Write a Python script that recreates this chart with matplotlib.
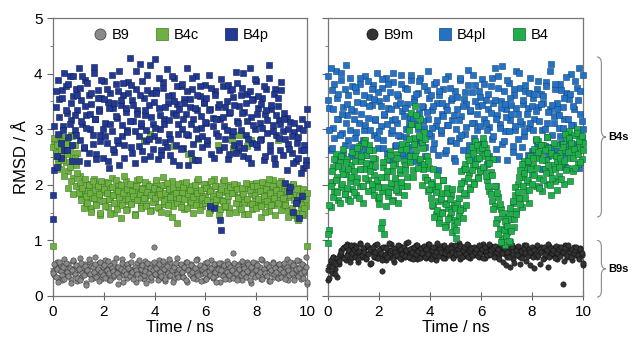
import numpy as np
import matplotlib.pyplot as plt
from matplotlib.lines import Line2D
from matplotlib.path import Path
from matplotlib.patches import PathPatch
import matplotlib.transforms as mtransforms

plt.rcParams['font.family'] = ['Liberation Sans', 'DejaVu Sans']

# RMSD values (hundredths of an angstrom); each list is spread evenly over 0-10 ns,
# the "_b" lists are a second set of frames
b9 = [
    45, 38, 52, 61, 33, 47, 55, 29, 42, 66, 50, 37, 58, 44, 31, 49, 63, 40, 53, 27,
    46, 68, 35, 51, 42, 57, 24, 48, 39, 62, 54, 33, 45, 71, 41, 36, 59, 47, 30, 52,
    43, 65, 38, 50, 28, 56, 46, 34, 61, 44, 53, 22, 49, 40, 67, 37, 55, 45, 32, 58,
    48, 41, 74, 35, 51, 26, 60, 43, 39, 54, 47, 31, 63, 50, 36, 45, 57, 29, 42, 88,
    52, 38, 46, 64, 33, 55, 41, 49, 27, 58, 44, 36, 61, 47, 53, 30, 40, 69, 45, 38,
    56, 43, 34, 50, 62, 25, 48, 41, 57, 36, 52, 45, 31, 66, 43, 54, 39, 47, 28, 60,
    46, 35, 53, 42, 64, 32, 49, 57, 38, 44, 51, 26, 59, 41, 47, 35, 63, 50, 30, 55,
    44, 78, 39, 52, 33, 46, 58, 41, 29, 54, 48, 37, 62, 43, 51, 24, 56, 45, 36, 60,
    47, 40, 53, 31, 65, 44, 38, 50, 57, 27, 49, 42, 61, 35, 46, 53, 32, 58, 41, 48,
    37, 55, 44, 66, 29, 51, 40, 47, 59, 34, 52, 45, 38, 63, 30, 48, 56, 41, 70, 22]
b9_b = [
    41, 57, 34, 49, 26, 62, 45, 38, 53, 30, 59, 43, 36, 51, 24, 47, 64, 39, 55, 33,
    48, 29, 60, 42, 37, 54, 20, 46, 66, 40, 31, 52, 44, 58, 35, 49, 27, 61, 43, 38,
    55, 32, 47, 63, 41, 28, 51, 45, 37, 68, 42, 53, 34, 48, 59, 26, 45, 39, 57, 50,
    36, 61, 44, 30, 52, 47, 40, 65, 33, 49, 56, 38, 45, 23, 60, 42, 51, 35, 47, 62,
    39, 50, 28, 57, 44, 36, 63, 48, 31, 54, 42, 67, 37, 46, 25, 53, 59, 40, 34, 49,
    58, 43, 35, 52, 29, 61, 47, 39, 55, 44, 32, 50, 64, 41, 37, 56, 27, 48, 53, 42,
    30, 62, 45, 38, 51, 34, 57, 43, 26, 49, 60, 40, 47, 36, 55, 31, 44, 58, 38, 52,
    46, 33, 59, 41, 28, 54, 48, 37, 63, 42, 50, 35, 45, 57, 29, 52, 40, 61, 34, 47,
    55, 38, 44, 66, 31, 49, 42, 58, 36, 53, 27, 46, 60, 39, 51, 44, 33, 57, 48, 35,
    43, 59, 30, 52, 46, 37, 62, 41, 55, 28, 48, 64, 36, 50, 42, 57, 32, 45, 53, 26]
b4c = [
    90, 275, 262, 281, 248, 270, 228, 286, 255, 268, 241, 279, 225, 262, 290, 250, 212, 271, 236, 258,
    198, 215, 182, 174, 206, 191, 163, 188, 201, 177, 159, 194, 210, 185, 168, 202, 179, 146, 193, 187,
    171, 205, 188, 160, 196, 174, 213, 182, 150, 192, 166, 201, 184, 140, 178, 195, 171, 206, 157, 189,
    183, 167, 199, 176, 148, 190, 208, 172, 185, 161, 194, 280, 178, 165, 201, 187, 292, 154, 182, 196,
    170, 203, 186, 158, 192, 178, 214, 166, 199, 183, 149, 191, 175, 207, 162, 188, 174, 132, 196, 181,
    168, 204, 189, 157, 193, 176, 255, 163, 198, 184, 150, 190, 172, 206, 282, 186, 171, 161, 195, 180,
    167, 202, 188, 155, 192, 177, 211, 164, 197, 183, 146, 189, 173, 205, 160, 187, 170, 199, 158, 194,
    281, 266, 186, 152, 200, 178, 163, 292, 180, 174, 147, 195, 270, 168, 201, 184, 156, 191, 175, 203,
    162, 188, 171, 143, 197, 182, 165, 204, 186, 153, 193, 177, 209, 164, 198, 183, 280, 190, 174, 206,
    161, 187, 170, 198, 155, 192, 178, 145, 200, 184, 167, 141, 195, 173, 158, 189, 145, 176, 162, 90]
b4c_b = [
    268, 284, 251, 272, 238, 290, 262, 279, 245, 216, 273, 255, 194, 232, 206, 288, 184, 248, 197, 222,
    186, 203, 172, 194, 158, 211, 180, 167, 199, 185, 152, 207, 176, 191, 164, 198, 183, 149, 206, 170,
    193, 161, 185, 204, 175, 147, 196, 182, 168, 209, 157, 189, 178, 200, 163, 186, 215, 154, 192, 174,
    201, 166, 188, 179, 145, 197, 172, 210, 184, 159, 193, 176, 205, 162, 187, 198, 153, 181, 169, 194,
    177, 208, 160, 190, 183, 151, 199, 171, 186, 203, 164, 192, 178, 142, 195, 270, 185, 168, 201, 176,
    160, 187, 196, 174, 205, 158, 183, 191, 169, 247, 178, 199, 163, 186, 211, 155, 190, 177, 202, 167,
    194, 172, 149, 188, 206, 180, 163, 197, 175, 271, 184, 157, 193, 170, 208, 162, 188, 179, 150, 196,
    185, 259, 201, 168, 192, 176, 289, 157, 195, 183, 169, 204, 174, 148, 190, 280, 166, 198, 181, 159,
    197, 174, 189, 162, 205, 180, 152, 193, 171, 210, 186, 163, 198, 177, 146, 191, 168, 204, 183, 155,
    176, 199, 164, 188, 142, 195, 181, 158, 201, 172, 150, 192, 137, 180, 166, 148, 193, 159, 174, 185]
b4p = [
    138, 226, 340, 232, 291, 354, 248, 371, 305, 262, 378, 330, 286, 395, 317, 243, 360, 298, 372, 335,
    410, 280, 352, 309, 267, 388, 326, 240, 362, 301, 345, 274, 402, 318, 255, 371, 337, 290, 356, 248,
    386, 312, 275, 349, 230, 365, 296, 338, 259, 381, 321, 276, 405, 344, 288, 362, 249, 331, 298, 385,
    429, 268, 352, 315, 240, 373, 334, 287, 418, 305, 261, 357, 326, 279, 398, 343, 252, 366, 310, 287,
    427, 371, 246, 339, 300, 263, 385, 318, 277, 409, 348, 291, 254, 362, 329, 392, 272, 345, 310, 236,
    378, 301, 266, 354, 327, 411, 289, 340, 258, 372, 319, 244, 396, 335, 285, 360, 303, 268, 347, 380,
    312, 273, 398, 336, 255, 321, 159, 368, 293, 340, 262, 318, 119, 377, 305, 282, 351, 246, 329, 371,
    290, 358, 272, 403, 314, 262, 342, 298, 375, 251, 331, 289, 364, 248, 410, 322, 276, 355, 301, 386,
    268, 339, 312, 283, 357, 245, 327, 372, 294, 415, 261, 336, 308, 248, 372, 290, 341, 316, 262, 385,
    297, 330, 204, 321, 274, 188, 313, 258, 151, 295, 242, 172, 286, 140, 262, 319, 230, 271, 245, 337]
b4p_b = [
    182, 305, 368, 251, 389, 322, 276, 356, 298, 402, 334, 263, 381, 310, 348, 272, 395, 326, 289, 361,
    243, 374, 315, 396, 268, 341, 302, 383, 257, 328, 365, 290, 412, 319, 246, 357, 333, 279, 388, 301,
    354, 287, 372, 242, 339, 310, 398, 265, 347, 324, 281, 369, 236, 352, 307, 384, 271, 338, 295, 366,
    314, 379, 258, 343, 296, 405, 328, 269, 361, 312, 387, 247, 335, 299, 371, 283, 416, 322, 264, 349,
    302, 366, 281, 392, 325, 253, 374, 309, 340, 268, 359, 317, 283, 396, 243, 351, 326, 378, 291, 337,
    265, 382, 318, 347, 291, 368, 236, 355, 309, 392, 274, 338, 300, 361, 245, 377, 324, 287, 349, 313,
    356, 281, 334, 162, 374, 306, 249, 362, 318, 287, 345, 137, 391, 322, 268, 340, 298, 379, 255, 331,
    372, 297, 344, 258, 384, 311, 276, 361, 330, 401, 266, 347, 315, 282, 368, 239, 352, 307, 390, 274,
    328, 360, 281, 346, 302, 377, 251, 335, 316, 392, 272, 343, 297, 364, 238, 325, 356, 284, 309, 371,
    254, 318, 283, 226, 301, 265, 196, 288, 239, 312, 168, 276, 249, 302, 221, 180, 298, 262, 235, 310]

b9m = [
    28, 54, 62, 41, 70, 48, 66, 35, 58, 74,
    82, 71, 88, 64, 93, 77, 85, 69, 80, 91, 73, 84, 62, 78, 95, 70, 81, 87, 66, 76,
    89, 58, 79, 84, 71, 92, 68, 80, 75, 86, 45, 73, 88, 65, 79, 83, 70, 94, 77, 61,
    85, 72, 80, 90, 67, 78, 84, 71, 96, 75, 82, 69, 87, 79, 74, 91, 66, 83, 77, 86,
    72, 89, 80, 68, 93, 76, 84, 71, 81, 88, 64, 79, 85, 73, 90, 77, 82, 69, 87, 75,
    83, 92, 78, 70, 86, 74, 81, 95, 67, 79, 88, 72, 84, 76, 91, 69, 80, 86, 73, 82,
    77, 89, 71, 84, 80, 93, 68, 78, 87, 74, 82, 90, 76, 85, 79, 71, 88, 73, 83, 96,
    81, 75, 89, 70, 84, 78, 92, 67, 86, 80, 74, 88, 71, 83, 79, 91, 76, 63, 85, 73,
    55, 78, 82, 50, 87, 71, 76, 58, 89, 80, 69, 84, 77, 52, 90, 74, 81, 86, 72, 79,
    66, 88, 75, 83, 21, 78, 92, 70, 85, 76, 80, 64, 89, 73, 82, 77, 68, 86, 74, 55]
b9m_b = [
    46, 33, 65, 52, 71, 40, 58, 69, 63, 76,
    79, 87, 68, 90, 74, 83, 61, 92, 77, 85, 70, 88, 66, 81, 94, 73, 86, 79, 68, 91,
    75, 84, 59, 88, 72, 80, 93, 69, 82, 77, 65, 89, 74, 86, 71, 95, 78, 83, 67, 87,
    80, 73, 91, 68, 85, 76, 89, 72, 83, 97, 70, 84, 79, 66, 88, 75, 92, 81, 69, 86,
    78, 90, 71, 84, 76, 93, 67, 82, 88, 74, 80, 95, 72, 85, 79, 69, 91, 77, 83, 87,
    73, 86, 80, 68, 92, 75, 84, 78, 90, 71, 83, 88, 76, 94, 70, 81, 86, 74, 89, 79,
    84, 72, 91, 77, 85, 69, 88, 80, 74, 93, 76, 82, 87, 71, 90, 79, 84, 67, 92, 78,
    62, 85, 56, 80, 71, 53, 88, 76, 59, 83, 74, 90, 57, 81, 68, 86, 77, 92, 72, 84,
    79, 88, 70, 83, 76, 91, 73, 85, 80, 67, 89, 75, 82, 94, 71, 86, 78, 83, 69, 90,
    77, 84, 72, 88, 80, 63, 86, 74, 91, 79, 70, 85, 77, 82, 89, 73, 66, 84, 78, 60]
b4pl = [
    395, 338, 262, 371, 302, 284, 405, 356, 318, 247, 389, 293, 340, 272, 415, 326, 361, 298, 252, 377,
    332, 284, 369, 245, 311, 382, 273, 347, 299, 396, 264, 320, 358, 238, 343, 379, 290, 317, 401, 266,
    351, 305, 374, 280, 326, 392, 258, 338, 367, 294, 316, 385, 270, 343, 312, 360, 287, 398, 333, 252,
    374, 301, 346, 268, 322, 389, 242, 357, 310, 281, 366, 329, 392, 276, 340, 302, 251, 371, 318, 356,
    288, 335, 264, 381, 306, 347, 226, 362, 294, 327, 372, 258, 341, 308, 396, 279, 353, 316, 248, 369,
    301, 337, 285, 388, 323, 262, 354, 292, 345, 406, 271, 332, 367, 244, 312, 379, 298, 341, 266, 358,
    390, 275, 319, 352, 237, 336, 304, 378, 282, 347, 411, 264, 326, 395, 309, 351, 274, 368, 297, 336,
    245, 383, 316, 343, 270, 361, 299, 404, 328, 252, 375, 310, 346, 287, 369, 233, 338, 302, 392, 261,
    357, 319, 281, 372, 340, 196, 364, 298, 347, 269, 385, 312, 251, 336, 418, 289, 324, 372, 260, 348,
    303, 382, 276, 340, 318, 232, 366, 295, 354, 271, 399, 307, 337, 262, 375, 291, 410, 328, 284, 398]
b4pl_b = [
    352, 298, 410, 267, 336, 381, 245, 319, 364, 290, 402, 328, 257, 373, 311, 345, 281, 392, 336, 268,
    318, 376, 295, 349, 262, 393, 327, 280, 362, 307, 254, 386, 341, 299, 372, 232, 355, 318, 284, 367,
    297, 342, 391, 266, 328, 357, 309, 381, 245, 336, 298, 402, 319, 271, 364, 290, 347, 382, 258, 324,
    339, 286, 372, 311, 255, 398, 320, 349, 276, 363, 301, 387, 237, 342, 315, 378, 268, 331, 404, 293,
    362, 303, 341, 276, 385, 316, 254, 369, 299, 347, 323, 390, 262, 334, 308, 375, 281, 356, 325, 243,
    276, 358, 317, 392, 289, 341, 229, 367, 304, 380, 262, 335, 312, 398, 284, 351, 327, 273, 369, 306,
    343, 265, 382, 311, 298, 364, 251, 329, 392, 287, 352, 318, 246, 375, 302, 338, 413, 279, 346, 322,
    388, 296, 357, 327, 259, 372, 306, 339, 283, 401, 315, 268, 353, 296, 380, 327, 254, 365, 311, 342,
    299, 364, 332, 271, 387, 315, 346, 228, 359, 301, 378, 286, 331, 405, 268, 344, 312, 381, 253, 337,
    326, 287, 371, 302, 356, 255, 394, 319, 280, 363, 307, 341, 274, 386, 298, 352, 231, 368, 315, 300]
b4 = [
    95, 118, 160, 205, 232, 188, 255, 214, 172, 241, 196, 228, 265, 183, 219, 247, 175, 206, 236, 192,
    224, 258, 181, 212, 270, 197, 243, 168, 229, 280, 254, 208, 272, 236, 190, 262, 218, 247, 201, 176,
    165, 123, 188, 232, 112, 214, 247, 179, 260, 196, 225, 172, 239, 204, 256, 187, 221, 264, 198, 243,
    236, 271, 214, 298, 252, 330, 227, 285, 341, 262, 305, 244, 318, 276, 229, 295, 214, 252, 188, 231,
    176, 205, 162, 193, 148, 217, 171, 139, 186, 152, 208, 167, 128, 194, 158, 142, 181, 115, 163, 137,
    105, 168, 146, 192, 224, 159, 207, 238, 181, 252, 221, 196, 268, 233, 205, 279, 246, 214, 262, 228,
    251, 284, 229, 266, 208, 247, 189, 223, 171, 246, 162, 198, 139, 178, 121, 156, 104, 143, 92, 128,
    116, 149, 97, 138, 167, 124, 182, 153, 201, 176, 226, 160, 214, 243, 189, 231, 205, 168, 252, 219,
    236, 264, 197, 248, 279, 213, 258, 188, 271, 229, 245, 202, 267, 223, 182, 254, 236, 207, 272, 243,
    216, 258, 239, 274, 201, 263, 286, 230, 297, 248, 272, 224, 289, 259, 301, 237, 268, 282, 246, 275]
b4_b = [
    112, 164, 198, 225, 178, 246, 209, 187, 233, 168, 252, 201, 219, 183, 241, 195, 228, 171, 214, 259,
    187, 243, 205, 267, 176, 229, 251, 198, 275, 213, 239, 188, 262, 224, 201, 248, 181, 233, 209, 196,
    178, 214, 133, 241, 196, 162, 225, 187, 253, 203, 171, 236, 212, 190, 248, 168, 229, 205, 273, 182,
    226, 264, 198, 283, 241, 309, 214, 274, 252, 326, 231, 288, 247, 199, 267, 238, 283, 209, 243, 192,
    201, 163, 229, 142, 187, 155, 198, 131, 174, 149, 209, 124, 166, 186, 138, 175, 152, 193, 126, 158,
    118, 134, 177, 155, 203, 141, 186, 229, 164, 212, 245, 192, 226, 258, 201, 237, 271, 213, 248, 224,
    266, 232, 274, 215, 258, 197, 239, 183, 217, 156, 198, 131, 185, 112, 166, 97, 149, 118, 135, 108,
    126, 99, 158, 117, 171, 139, 196, 148, 187, 214, 165, 238, 197, 221, 176, 209, 243, 191, 228, 201,
    248, 217, 283, 231, 259, 194, 272, 244, 208, 263, 221, 286, 236, 199, 258, 213, 276, 229, 251, 190,
    232, 249, 211, 268, 243, 291, 226, 259, 284, 207, 275, 248, 265, 231, 293, 256, 278, 241, 287, 262]

left_series = [("B9", [b9, b9_b], "o", "#8a8a8a", "#3a3a3a"),
               ("B4c", [b4c, b4c_b], "s", "#6fb043", "#3f7a22"),
               ("B4p", [b4p, b4p_b], "s", "#223a94", "#0f1d55")]
right_series = [("B9m", [b9m, b9m_b], "o", "#333333", "#111111"),
                ("B4pl", [b4pl, b4pl_b], "s", "#2472c4", "#14457e"),
                ("B4", [b4, b4_b], "s", "#1fae4b", "#0c6a2a")]

fig = plt.figure(figsize=(6.36, 3.41), dpi=100)
ax1 = fig.add_axes([0.0833, 0.132, 0.3994, 0.815])
ax2 = fig.add_axes([0.5157, 0.132, 0.4010, 0.815])


def draw_panel(ax, series, labels_on):
    handles = []
    for name, parts, mk, fc, ec in series:
        t = np.concatenate([np.linspace(0, 10, len(p)) for p in parts])
        y = np.concatenate([np.array(p) for p in parts]) / 100.0
        ax.scatter(t, y, s=15, marker=mk, facecolor=fc, edgecolor=ec,
                   linewidths=0.4, clip_on=False, zorder=3)
        handles.append(Line2D([], [], linestyle="none", marker=mk, markersize=8,
                              markerfacecolor=fc, markeredgecolor=ec,
                              markeredgewidth=0.5, label=name))
    ax.set_xlim(0, 10)
    ax.set_ylim(0, 5)
    ax.set_xticks([0, 2, 4, 6, 8, 10])
    ax.set_yticks([0, 1, 2, 3, 4, 5])
    ax.set_yticks(np.arange(0.5, 5, 1.0), minor=True)
    ax.tick_params(axis="y", which="major", direction="out", length=4, width=0.8,
                   color="#666666", labelsize=11, labelleft=labels_on)
    ax.tick_params(axis="y", which="minor", direction="out", length=2.5, width=0.6,
                   color="#666666")
    ax.tick_params(axis="x", direction="inout", length=6, width=0.8,
                   color="#666666", labelsize=11)
    for sp in ax.spines.values():
        sp.set_color("#777777")
        sp.set_linewidth(0.9)
    ax.set_xlabel("Time / ns", fontsize=12, labelpad=1)
    ax.legend(handles=handles, loc="upper center", ncol=3, frameon=False,
              fontsize=10.5, handletextpad=0.2, columnspacing=1.6,
              borderaxespad=0.3, handlelength=1.2)


draw_panel(ax1, left_series, True)
draw_panel(ax2, right_series, False)
ax1.set_ylabel("RMSD / Å", fontsize=12, labelpad=4)


def brace(ax, ytop, ybot, label):
    trans = mtransforms.blended_transform_factory(ax.transAxes, ax.transData)
    x0, x1, xt = 1.055, 1.072, 1.09
    ym = (ytop + ybot) / 2
    c = 0.12
    verts = [(x0, ytop), (x1, ytop), (x1, ytop - c),
             (x1, ym + c),
             (x1, ym), (xt, ym),
             (x1, ym), (x1, ym - c),
             (x1, ybot + c),
             (x1, ybot), (x0, ybot)]
    codes = [Path.MOVETO, Path.CURVE3, Path.CURVE3,
             Path.LINETO,
             Path.CURVE3, Path.CURVE3,
             Path.CURVE3, Path.CURVE3,
             Path.LINETO,
             Path.CURVE3, Path.CURVE3]
    ax.add_patch(PathPatch(Path(verts, codes), transform=trans, fill=False,
                           edgecolor="#8a8a8a", linewidth=0.8, clip_on=False))
    ax.text(1.1, ym, label, transform=trans, fontsize=8, fontweight="bold",
            va="center", ha="left")


brace(ax2, 4.3, 1.42, "B4s")
brace(ax2, 1.0, -0.02, "B9s")

fig.savefig("out.png", dpi=100)
